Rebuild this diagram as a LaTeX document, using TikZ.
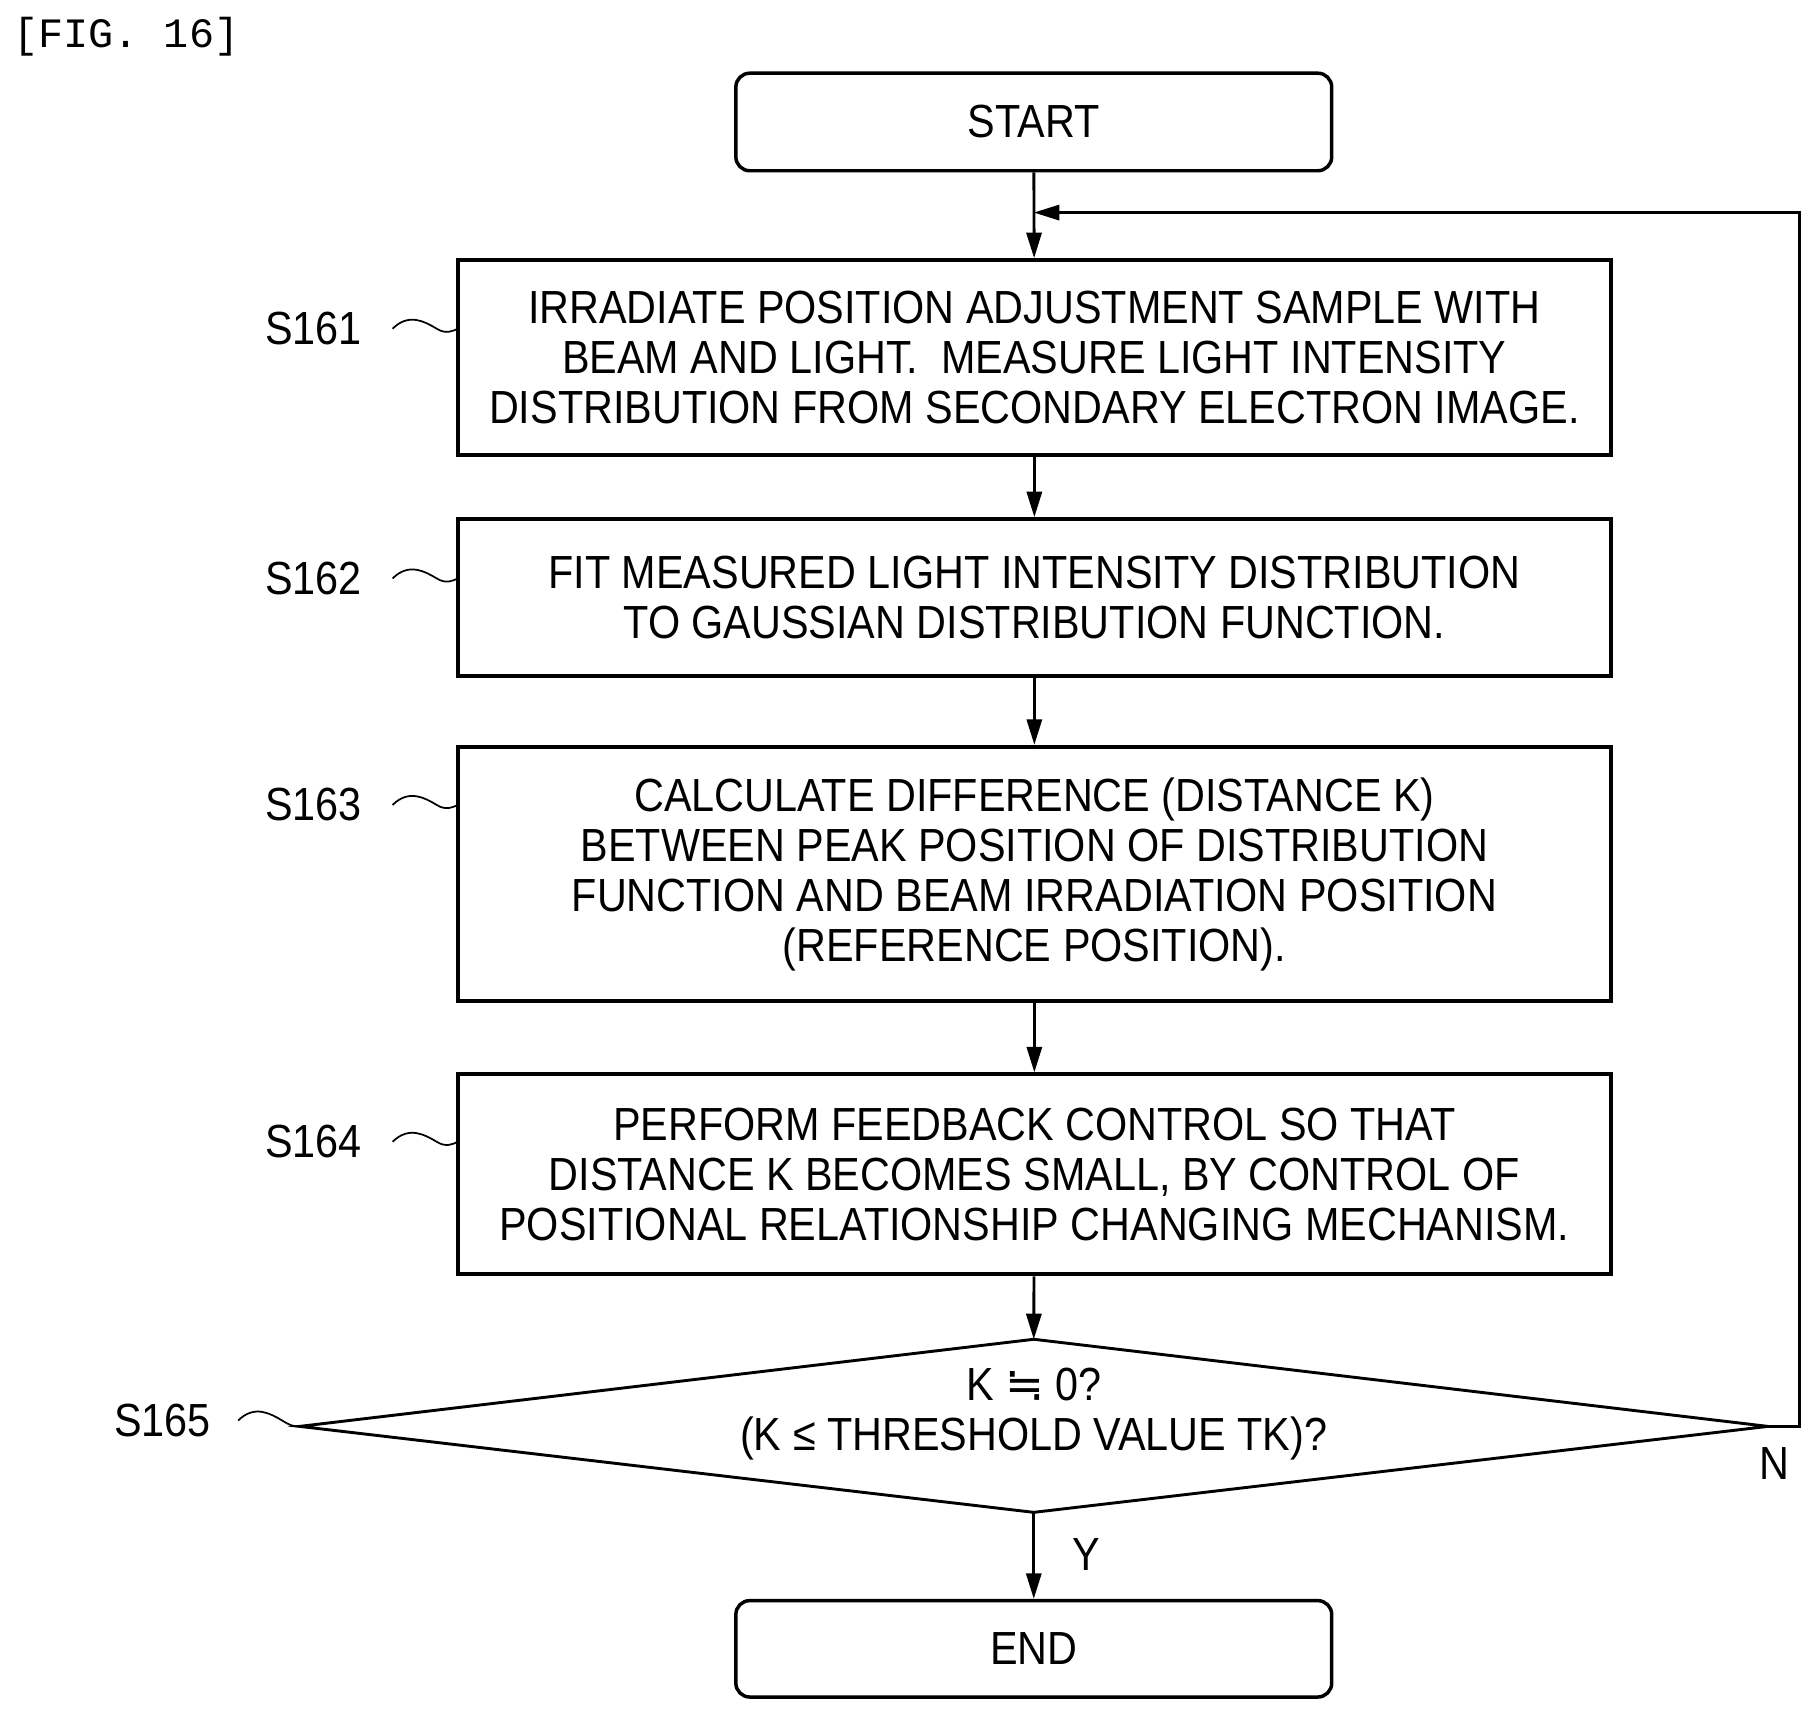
\documentclass[tikz,border=0pt]{standalone}
\usepackage{fontspec}
\setmainfont[FakeStretch=0.89]{Liberation Sans}
\newfontfamily\monof{Liberation Mono}
\newfontfamily\symf{DejaVu Sans}
\usetikzlibrary{arrows.meta,calc}
\begin{document}
\begin{tikzpicture}[x=1pt,y=-1pt,
  box/.style={draw,line width=3.5pt,align=center,font=\fontsize{40}{43}\selectfont,inner sep=0pt},
  term/.style={box,line width=3pt,rounded corners=12pt},
  arr/.style={line width=2.5pt,-{Triangle[length=22pt,width=13pt]}},
  lab/.style={font=\fontsize{40}{43}\selectfont}]
\useasboundingbox (0,0) rectangle (1560,1473);
\node[anchor=west,font=\monof\fontsize{36}{36}\selectfont] (fig) at (8,32) {[FIG. 16]};
\node[term,minimum width=513pt,minimum height=84pt] (start) at (890,105) {START};
\node[box,minimum width=993pt,minimum height=168pt] (s1) at (890.5,308) {IRRADIATE POSITION ADJUSTMENT SAMPLE WITH\\BEAM AND LIGHT.\ \ MEASURE LIGHT INTENSITY\\DISTRIBUTION FROM SECONDARY ELECTRON IMAGE.};
\node[box,minimum width=993pt,minimum height=135pt] (s2) at (890.5,514.5) {FIT MEASURED LIGHT INTENSITY DISTRIBUTION\\TO GAUSSIAN DISTRIBUTION FUNCTION.};
\node[box,minimum width=993pt,minimum height=219pt] (s3) at (890.5,752.5) {CALCULATE DIFFERENCE (DISTANCE K)\\BETWEEN PEAK POSITION OF DISTRIBUTION\\FUNCTION AND BEAM IRRADIATION POSITION\\(REFERENCE POSITION).};
\node[box,minimum width=993pt,minimum height=172pt] (s4) at (890.5,1011) {PERFORM FEEDBACK CONTROL SO THAT\\DISTANCE K BECOMES SMALL, BY CONTROL OF\\POSITIONAL RELATIONSHIP CHANGING MECHANISM.};
\coordinate (dt) at (890,1153); \coordinate (db) at (890,1302);
\coordinate (dl) at (258,1228); \coordinate (dr) at (1522,1228);
\draw[line width=2.5pt] (dt) -- (dr) -- (db) -- (dl) -- cycle;
\node[lab,align=center] (dtext) at (890,1217) {K {\symf ≒} 0?\\(K ≤ THRESHOLD VALUE TK)?};
\node[term,minimum width=513pt,minimum height=83pt] (end) at (890,1419.5) {END};
\coordinate (lr) at (1549,1228); \coordinate (lt) at (1549,183); \coordinate (lj) at (890,183);
\draw[arr] (start) -- (s1);
\draw[arr] (s1) -- (s2);
\draw[arr] (s2) -- (s3);
\draw[arr] (s3) -- (s4);
\draw[arr] (s4) -- (dt);
\draw[arr] (db) -- (end);
\draw[arr] (dr) -- (lr) -- (lt) -- (lj);
\node[lab] (n) at (1528,1260) {N};
\node[lab] (y) at (935,1338) {Y};
\foreach \n/\y in {1/283,2/498,3/693,4/983}{
  \node[lab] (l\n) at (270,\y) {S16\n};
  \draw[line width=1.5pt] (338,\y) .. controls (352,\y-14) and (366,\y-6) .. (376,\y) .. controls (384,\y+5) and (390,\y+2) .. (394,\y);
}
\node[lab] (l5) at (140,1223) {S165};
\draw[line width=1.5pt] (205,1223) .. controls (219,1209) and (233,1217) .. (243,1223) .. controls (251,1228) and (254,1228) .. (258,1228);
\end{tikzpicture}
\end{document}
